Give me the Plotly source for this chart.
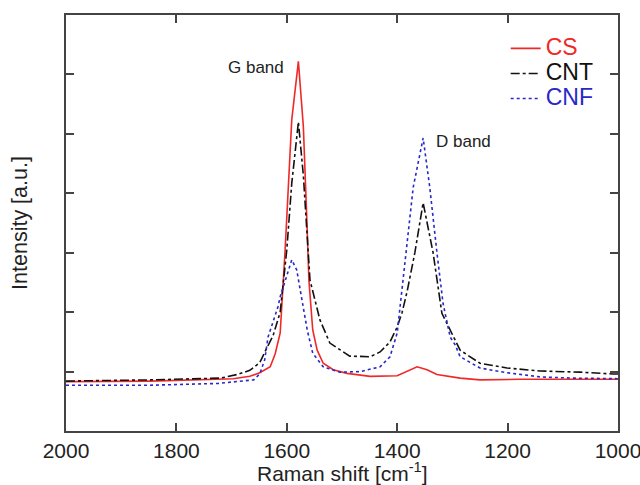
import plotly.graph_objects as go

# Raman shift (cm^-1) and intensities (a.u.)
cs_x = [2000, 1848, 1697, 1667, 1649, 1630, 1621, 1612, 1603, 1591, 1579, 1570, 1563, 1560, 1553,
        1545, 1534, 1516, 1491, 1449, 1400, 1382, 1364, 1346, 1328, 1286, 1250, 1178, 1105, 1000]
cs_y = [0.83, 0.84, 0.88, 0.92, 0.98, 1.08, 1.30, 1.65, 3.05, 5.24, 6.22, 5.12, 3.38, 2.54, 1.70,
        1.36, 1.14, 1.03, 0.97, 0.92, 0.93, 1.00, 1.08, 1.03, 0.95, 0.89, 0.86, 0.87, 0.87, 0.87]

cnt_x = [2000, 1848, 1720, 1690, 1667, 1649, 1636, 1625, 1612, 1600, 1591, 1579, 1570, 1563, 1558,
         1540, 1522, 1486, 1467, 1449, 1431, 1413, 1400, 1391, 1382, 1368, 1353, 1335, 1319, 1286,
         1250, 1201, 1141, 1069, 1009, 1000]
cnt_y = [0.84, 0.86, 0.89, 0.95, 1.02, 1.15, 1.40, 1.60, 2.00, 3.05, 4.17, 5.20, 4.30, 3.30, 2.54,
         1.87, 1.48, 1.26, 1.25, 1.25, 1.33, 1.50, 1.75, 2.00, 2.35, 3.00, 3.84, 3.00, 1.98, 1.36,
         1.14, 1.06, 1.01, 0.99, 0.96, 0.96]

cnf_x = [2000, 1848, 1725, 1685, 1660, 1649, 1640, 1634, 1616, 1612, 1600, 1591, 1582, 1573, 1563,
         1553, 1534, 1504, 1467, 1431, 1413, 1400, 1397, 1383, 1371, 1353, 1341, 1328, 1317, 1304,
         1295, 1286, 1250, 1201, 1141, 1082, 1009, 1000]
cnf_y = [0.77, 0.77, 0.80, 0.83, 0.86, 0.96, 1.20, 1.58, 2.09, 2.26, 2.60, 2.88, 2.71, 2.26, 1.70,
         1.31, 1.08, 0.99, 1.00, 1.08, 1.25, 1.65, 1.90, 3.00, 4.10, 4.93, 4.10, 3.00, 2.15, 1.58,
         1.45, 1.25, 1.06, 0.98, 0.91, 0.89, 0.88, 0.88]

x_ticks = [2000, 1800, 1600, 1400, 1200, 1000]
band_labels = ["G band", "D band"]
band_x = [1656, 1279]
band_y = [6.11, 4.87]
x_title = "Raman shift [cm<sup>-1</sup>]"
y_title = "Intensity [a.u.]"

RED = "#f02828"
BLACK = "#111111"
BLUE = "#2828c8"
FONT = "Liberation Sans, Arial, sans-serif"


def legend_name(text, color):
    return f"<span style='color:{color};font-size:23px'>{text}</span>"


fig = go.Figure()
fig.add_trace(go.Scatter(x=cs_x, y=cs_y, mode="lines", name=legend_name("CS", RED),
                         line=dict(color=RED, width=1.6)))
fig.add_trace(go.Scatter(x=cnt_x, y=cnt_y, mode="lines", name=legend_name("CNT", BLACK),
                         line=dict(color=BLACK, width=1.6, dash="dashdot")))
fig.add_trace(go.Scatter(x=cnf_x, y=cnf_y, mode="lines", name=legend_name("CNF", BLUE),
                         line=dict(color=BLUE, width=1.6, dash="dot")))

for t, xv, yv in zip(band_labels, band_x, band_y):
    fig.add_annotation(x=xv, y=yv, text=t, showarrow=False,
                       font=dict(size=17, color="#222222", family=FONT))

# x-axis title placed as a paper-anchored annotation so it sits as low as in the reference
fig.add_annotation(x=0.5, y=0, xref="paper", yref="paper", xanchor="center", yanchor="top",
                   yshift=-26, text=x_title, showarrow=False,
                   font=dict(size=21, color="#222222", family=FONT))

axis_common = dict(showline=True, linecolor="#444444", linewidth=1.6, mirror="ticks",
                   ticks="inside", ticklen=8, tickwidth=1.6, tickcolor="#444444",
                   showgrid=False, zeroline=False, automargin=False)

fig.update_layout(
    width=640, height=485,
    margin=dict(l=66, r=22, t=15, b=54, pad=0),
    paper_bgcolor="white", plot_bgcolor="white",
    font=dict(family=FONT, color="#222222", size=21),
    showlegend=True,
    legend=dict(x=0.965, y=0.962, xanchor="right", yanchor="top",
                bgcolor="rgba(0,0,0,0)", font=dict(size=17), tracegroupgap=0,
                itemwidth=30),
    xaxis=dict(range=[2000, 999.999], tickvals=x_ticks, ticktext=[str(v) for v in x_ticks],
               tickfont=dict(size=21), ticklabeloverflow="allow",
               **axis_common),
    yaxis=dict(range=[0, 7], dtick=1, showticklabels=False,
               title=dict(text=y_title, font=dict(size=21.5), standoff=31),
               **axis_common),
)

fig.write_html("out.html")
